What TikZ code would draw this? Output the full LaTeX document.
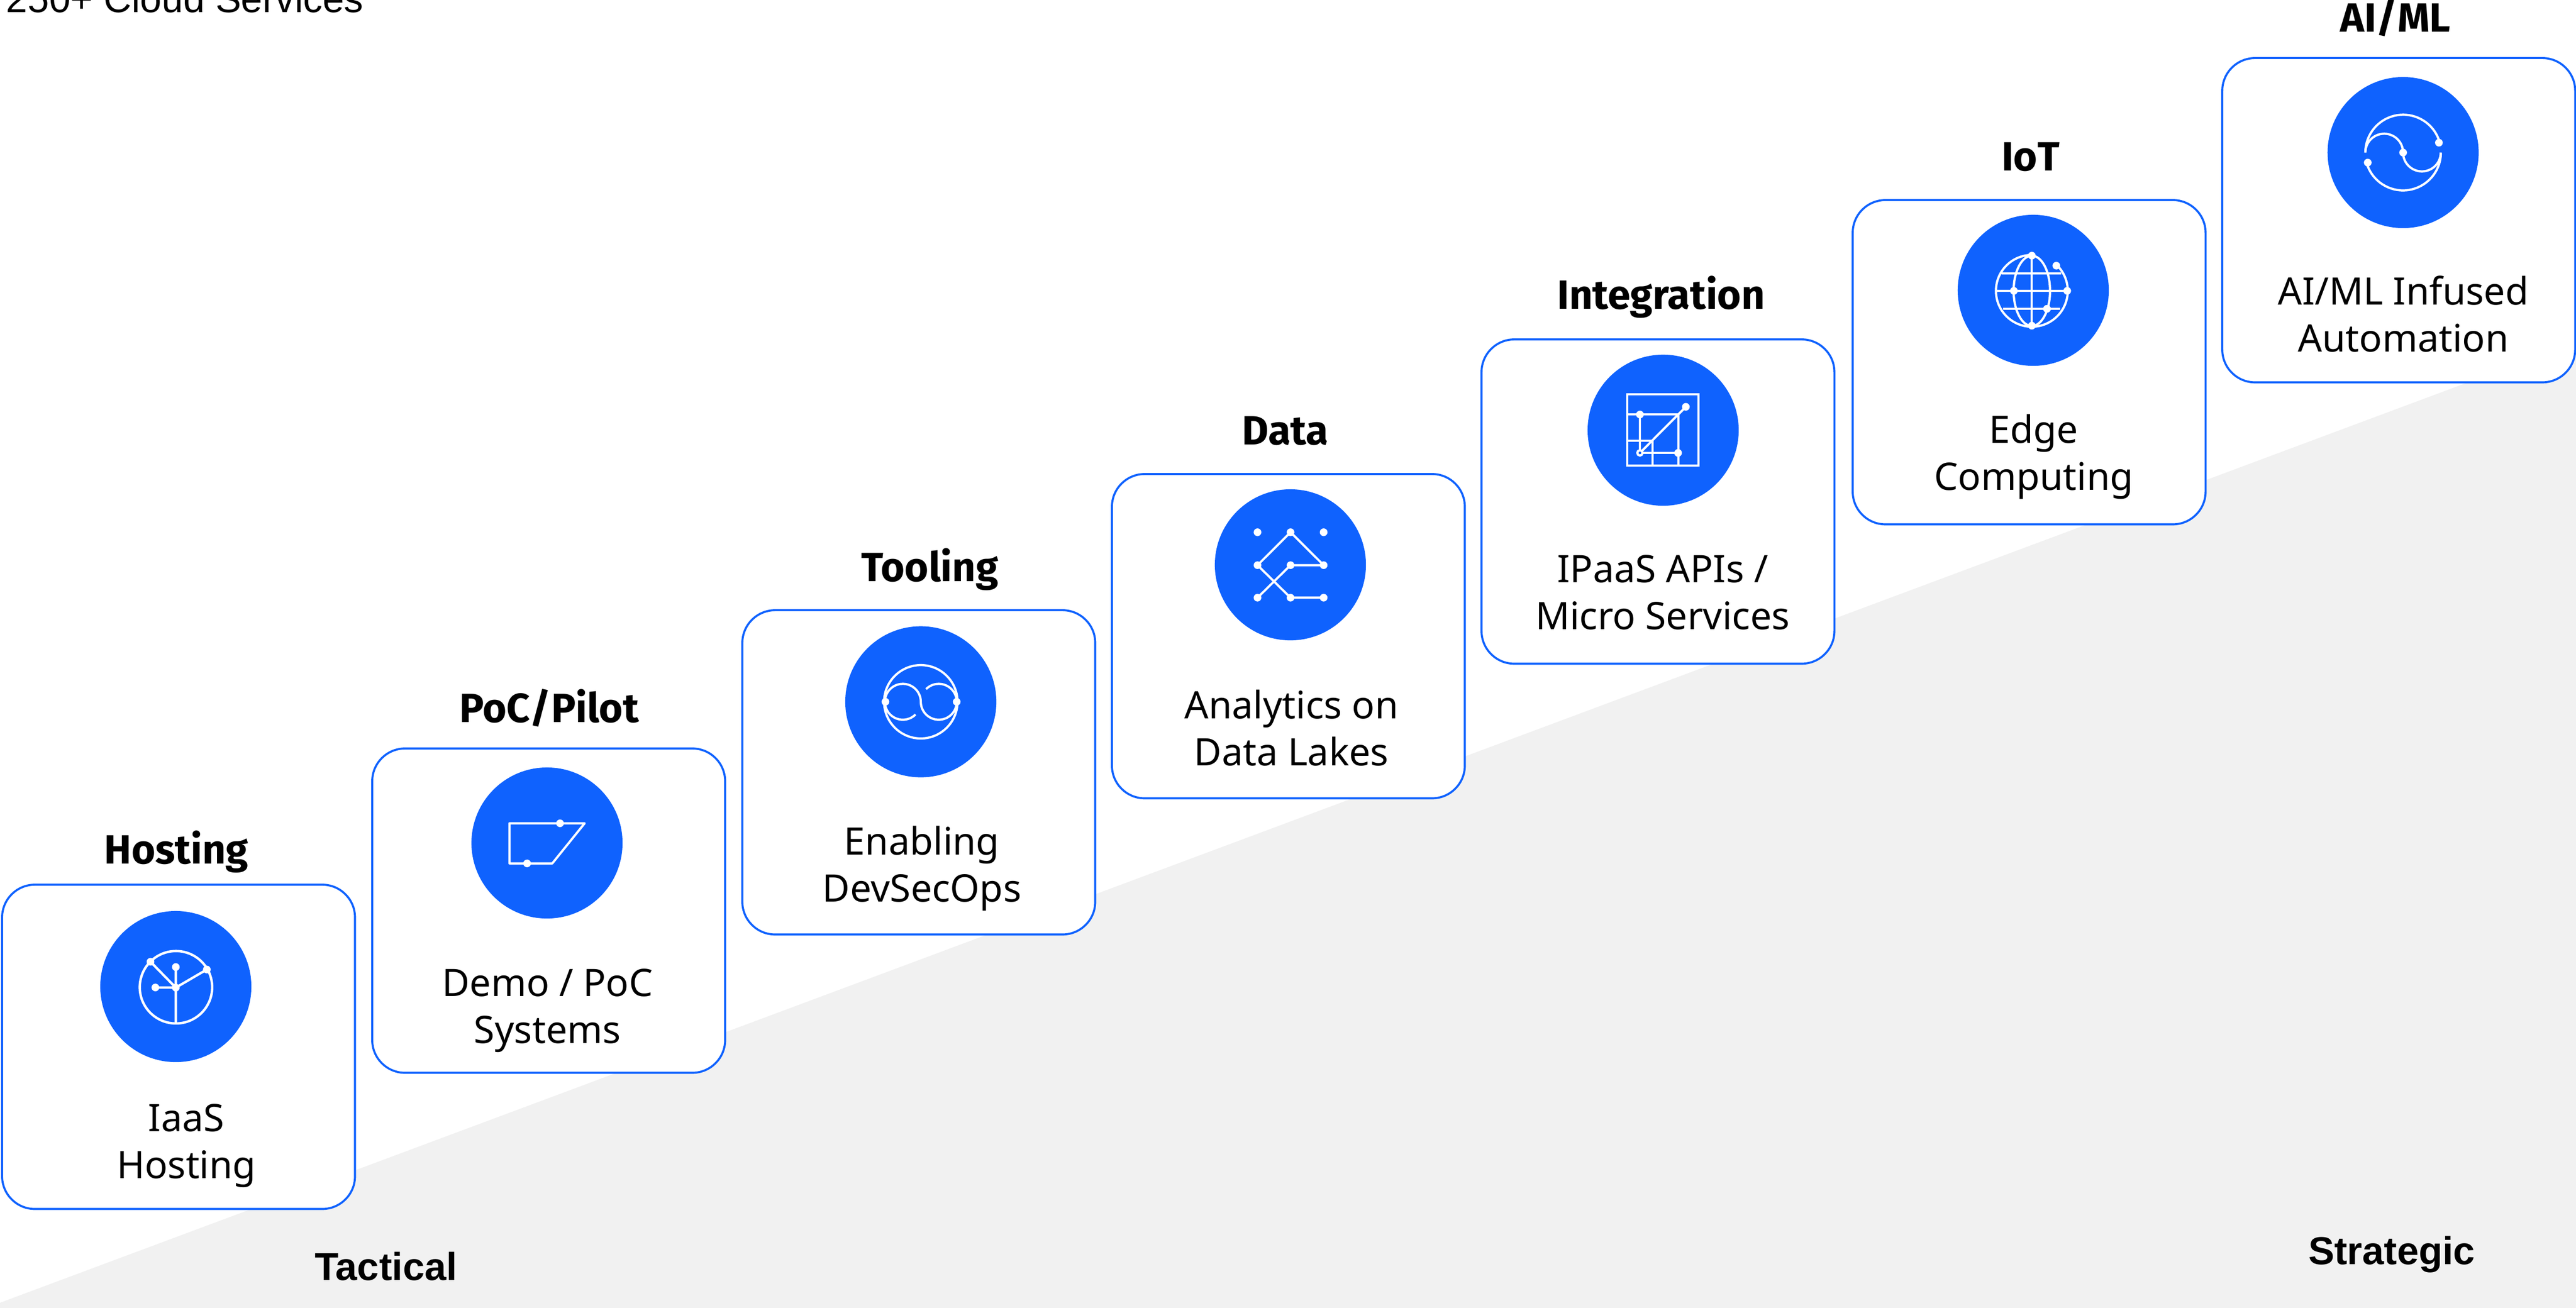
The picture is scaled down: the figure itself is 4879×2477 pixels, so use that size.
\documentclass[tikz,border=0pt]{standalone}
\usepackage{fontspec}
\setmainfont{Noto Sans}
\newfontfamily\arialfont{Liberation Sans}
\newfontfamily\headfont{Fira Sans}
\definecolor{ibmblue}{HTML}{0F62FE}
\definecolor{panelgray}{HTML}{F1F1F1}
\tikzset{
  cardbox/.style={draw=ibmblue,line width=1.1pt,fill=white,rounded corners=0.62cm,minimum width=6.68cm,minimum height=6.14cm,inner sep=0pt,outer sep=0pt,anchor=north west},
  iconbg/.style={circle,fill=ibmblue,minimum size=2.86cm,inner sep=0pt},
  cardtext/.style={font=\fontsize{20.4}{25.2}\selectfont,align=center,anchor=base,inner sep=0pt},
  cardhead/.style={font=\headfont\fontsize{22}{25}\selectfont\bfseries,anchor=base,inner sep=0pt},
  sidehead/.style={font=\arialfont\fontsize{21}{25}\selectfont\bfseries,anchor=base,inner sep=0pt},
  iconline/.style={draw=white,line width=1.2pt},
  icondot/.style={fill=white},
  iconframe/.style={shift={(#1)},x=0.01cm,y=0.01cm}
}
\begin{document}
\begin{tikzpicture}[x=0.01cm,y=-0.01cm]
\useasboundingbox (0,0) rectangle (4879,2477);
\fill[panelgray] (0,2468) -- (4879,648) -- (4879,2478) -- (0,2478) -- cycle;

\node[font=\arialfont\fontsize{20.8}{25}\selectfont,anchor=base west,inner sep=0pt] (top) at (11,23) {250+ Cloud Services};

\node[cardbox] (b1) at (4,1676) {};
\node[cardbox] (b2) at (705,1418) {};
\node[cardbox] (b3) at (1406,1156) {};
\node[cardbox] (b4) at (2106,898) {};
\node[cardbox] (b5) at (2806,643) {};
\node[cardbox] (b6) at (3509,379) {};
\node[cardbox] (b7) at (4209,110) {};

\node[iconbg] (c1) at (333,1869) {};
\node[iconbg] (c2) at (1036,1597) {};
\node[iconbg] (c3) at (1744,1329.5) {};
\node[iconbg] (c4) at (2444,1070) {};
\node[iconbg] (c5) at (3150,815) {};
\node[iconbg] (c6) at (3851,550) {};
\node[iconbg] (c7) at (4551.5,289) {};

\node[cardhead] (h1) at (334,1636) {Hosting};
\node[cardhead] (h2) at (1040,1368) {PoC/Pilot};
\node[cardhead] (h3) at (1761,1101) {Tooling};
\node[cardhead] (h4) at (2434,842) {Data};
\node[cardhead] (h5) at (3146,585) {Integration};
\node[cardhead] (h6) at (3846,323) {IoT};
\node[cardhead] (h7) at (4537,60) {AI/ML};

\node[cardtext] (t1) at (353,2232) {IaaS\\Hosting};
\node[cardtext] (t2) at (1037,1976) {Demo / PoC\\Systems};
\node[cardtext] (t3) at (1746,1708) {Enabling\\DevSecOps};
\node[cardtext] (t4) at (2446,1450) {Analytics on\\Data Lakes};
\node[cardtext] (t5) at (3149,1192) {IPaaS APIs /\\Micro Services};
\node[cardtext] (t6) at (3852,928) {Edge\\Computing};
\node[cardtext] (t7) at (4552,666) {AI/ML Infused\\Automation};

\node[sidehead] (tac) at (731,2425) {Tactical};
\node[sidehead] (str) at (4530,2395) {Strategic};

% Hosting icon
\begin{scope}[iconframe=c1.center]
  \draw[iconline,line width=1.3pt] (0.3,-1.3) circle (68.6);
  \draw[iconline,line width=1.3pt] (0,-2) -- (-48,47) (0,-2) -- (58.7,32.3) (0,37) -- (0,-69) (-38.7,-1.7) -- (0,-2);
  \foreach \p in {(-48,47),(58.7,32.3),(0,37),(-38.7,-1.7),(0,-2)} \fill[icondot] \p circle (7.3);
\end{scope}
% Demo icon
\begin{scope}[iconframe=c2.center]
  \draw[iconline,line join=round] (-71,37.3) -- (71.3,37.3) -- (10,-38.7) -- (-71,-38.7) -- cycle;
  \foreach \p in {(24.7,37.3),(-37.7,-38.7)} \fill[icondot] \p circle (7.3);
\end{scope}
% DevSecOps icon
\begin{scope}[iconframe=c3.center]
  \draw[iconline] (0,0) circle (69.5);
  \draw[iconline] (-68,0) arc[start angle=180,end angle=0,radius=34] arc[start angle=180,end angle=360,radius=34];
  \draw[iconline] (-68,0) arc[start angle=180,end angle=315,radius=34];
  \draw[iconline] (68,0) arc[start angle=0,end angle=135,radius=34];
  \foreach \p in {(-67,0),(68,0)} \fill[icondot] \p circle (7.3);
\end{scope}
% Data icon
\begin{scope}[iconframe=c4.center]
  \draw[iconline,line join=round] (-62.3,-0.7) -- (0.3,61.7) -- (63,-0.7) -- (0.3,-0.7) -- (-62.3,-62.3);
  \draw[iconline,line join=round] (-62.3,-0.7) -- (0.3,-62.3) -- (63,-62.3);
  \foreach \x in {-62.3,0.3,63} \foreach \y in {61.7,-0.7,-62.3} \fill[icondot] (\x,\y) circle (7.3);
\end{scope}
% Integration icon
\begin{scope}[iconframe=c5.center]
  \draw[iconline] (-68,68.3) rectangle (66.7,-66.7);
  \draw[iconline] (-68,29.7) -- (28.7,29.7) -- (28.7,-66.7);
  \draw[iconline] (-44,29.7) -- (-44,-43) -- (28.7,-43);
  \draw[iconline] (-68,-20.3) -- (-20,-20.3) -- (-20,-66.7);
  \draw[iconline] (-44,-43) -- (43,44.3);
  \foreach \p in {(-44,29.7),(28.3,-43),(43,44.3)} \fill[icondot] \p circle (7.3);
  \draw[draw=white,fill=ibmblue,line width=1.2pt] (-44,-43) circle (5);
\end{scope}
% IoT icon
\begin{scope}[iconframe=c6.center]
  \draw[iconline] (-2.7,67) arc[start angle=90,end angle=406,radius=68];
  \draw[iconline] (-2.7,-1) ellipse (34.5 and 66.5);
  \draw[iconline] (-2.7,65.7) -- (-2.7,-67);
  \draw[iconline] (-70,-1) -- (64.3,-1);
  \draw[iconline] (-60,32) -- (53,32);
  \draw[iconline] (-57,-35) -- (51,-35);
  \foreach \p in {(-2.7,65.7),(-2.7,-67),(-36.7,-1),(64.3,-1),(26,-35),(43.7,46.7)} \fill[icondot] \p circle (7.3);
\end{scope}
% AI/ML icon
\begin{scope}[iconframe=c7.center]
  \draw[iconline] (-71.5,0) arc[start angle=180,end angle=16,radius=71.7];
  \draw[iconline] (71.5,0) arc[start angle=360,end angle=196,radius=71.7];
  \draw[iconline] (-71.5,0) arc[start angle=180,end angle=0,radius=35.7] arc[start angle=180,end angle=360,radius=35.7];
  \foreach \p in {(67.8,18.7),(-67,-19),(0,0)} \fill[icondot] \p circle (7.3);
\end{scope}
\end{tikzpicture}
\end{document}
